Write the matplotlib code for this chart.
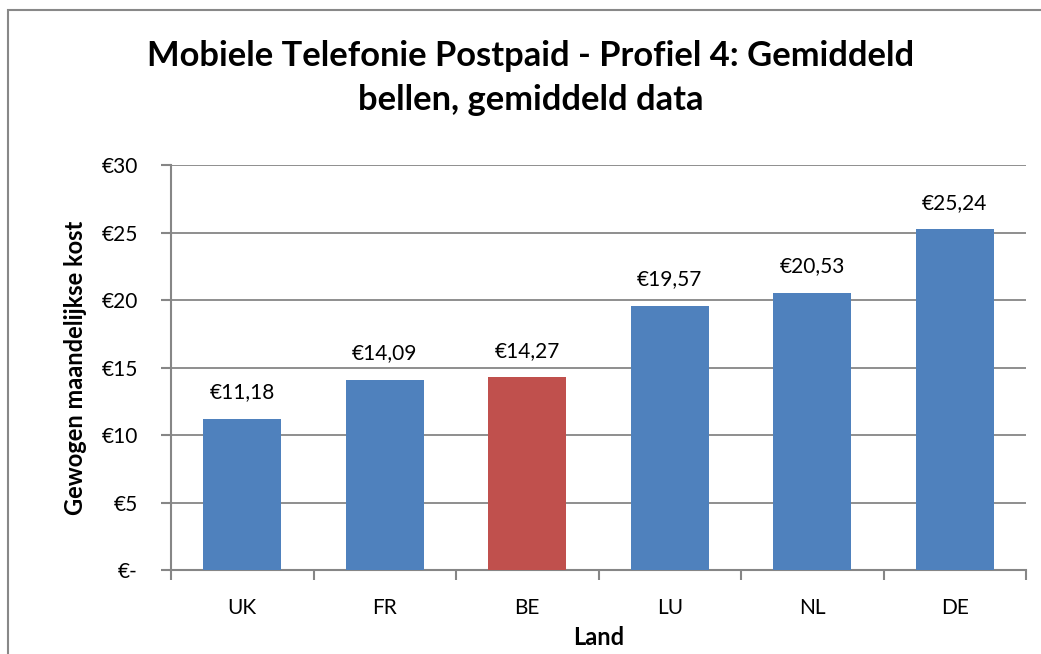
import matplotlib.pyplot as plt
from matplotlib.patches import Rectangle

# data
landen = ['UK', 'FR', 'BE', 'LU', 'NL', 'DE']
kost = [11.18, 14.09, 14.27, 19.57, 20.53, 25.24]
kleuren = ['#4F81BD', '#4F81BD', '#C0504D', '#4F81BD', '#4F81BD', '#4F81BD']
y_ticks = [0, 5, 10, 15, 20, 25, 30]
y_labels = ['€-', '€5', '€10', '€15', '€20', '€25', '€30']

plt.rcParams['font.family'] = ['Lato', 'DejaVu Sans']

fig = plt.figure(figsize=(10.41, 6.54), dpi=100)
ax = fig.add_axes([0.1643, 0.1284, 0.8213, 0.6193])

# chart border (Excel style), cut off at right and bottom
fig.patches.append(Rectangle((8 / 1041, -0.05), 1.1, 1 - 10 / 654 + 0.05,
                             transform=fig.transFigure, fill=False,
                             edgecolor='#888888', linewidth=1.5))

x = range(len(landen))
bars = ax.bar(x, kost, width=0.55, color=kleuren, zorder=3)
for b, v in zip(bars, kost):
    ax.annotate('€' + f'{v:.2f}'.replace('.', ','), (b.get_x() + b.get_width() / 2, v),
                xytext=(0, 12), textcoords='offset points', ha='center', va='bottom',
                fontsize=15)

ax.set_xlim(-0.5, len(landen) - 0.5)
ax.set_ylim(0, 30)
ax.set_yticks(y_ticks)
ax.set_yticklabels(y_labels, fontsize=15)
ax.set_xticks(list(x))
ax.set_xticklabels(landen, fontsize=15)
ax.set_xticks([i - 0.5 for i in range(len(landen) + 1)], minor=True)
ax.tick_params(axis='x', which='major', length=0, pad=20)
ax.tick_params(axis='x', which='minor', length=7, color='#868686', width=1.5)
ax.tick_params(axis='y', length=7, color='#868686', width=1.5, pad=17)
ax.grid(axis='y', color='#868686', linewidth=1.3, zorder=0)

for s in ['top', 'right']:
    ax.spines[s].set_visible(False)
for s in ['left', 'bottom']:
    ax.spines[s].set_color('#868686')
    ax.spines[s].set_linewidth(1.5)

ax.set_xlabel('Land', fontsize=17, fontweight='bold', labelpad=6)
ax.set_ylabel('Gewogen maandelijkse kost', fontsize=17, fontweight='bold', labelpad=10)
fig.text(0.51, 0.881, 'Mobiele Telefonie Postpaid - Profiel 4: Gemiddeld\nbellen, gemiddeld data',
         ha='center', va='center', fontsize=24.8, fontweight='bold', linespacing=1.45)

fig.savefig('out.png', dpi=100)
